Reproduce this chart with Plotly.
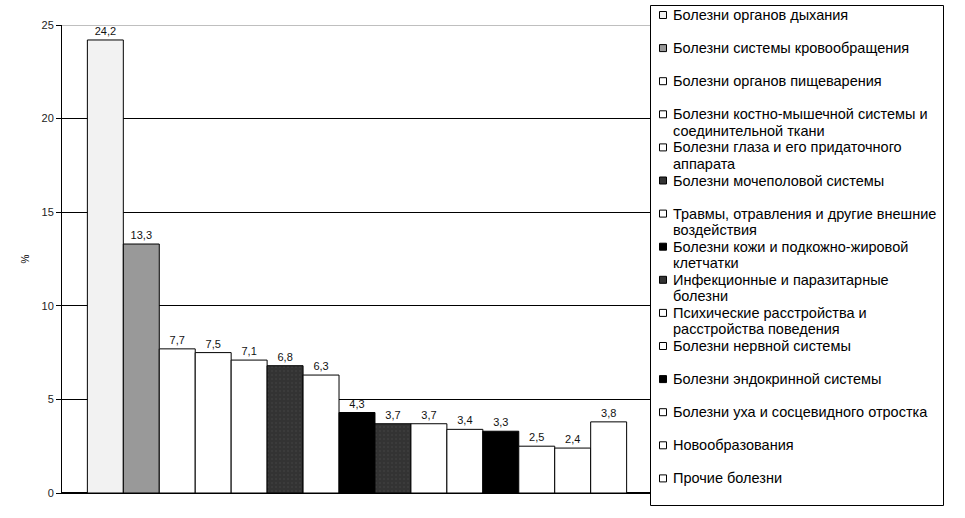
import plotly.graph_objects as go

categories = [
    "Болезни органов дыхания",
    "Болезни системы кровообращения",
    "Болезни органов пищеварения",
    "Болезни костно-мышечной системы и<br>соединительной ткани",
    "Болезни глаза и его придаточного<br>аппарата",
    "Болезни мочеполовой системы",
    "Травмы, отравления и другие внешние<br>воздействия",
    "Болезни кожи и подкожно-жировой<br>клетчатки",
    "Инфекционные и паразитарные<br>болезни",
    "Психические расстройства и<br>расстройства поведения",
    "Болезни нервной системы",
    "Болезни эндокринной системы",
    "Болезни уха и сосцевидного отростка",
    "Новообразования",
    "Прочие болезни",
]
values = [24.2, 13.3, 7.7, 7.5, 7.1, 6.8, 6.3, 4.3, 3.7, 3.7, 3.4, 3.3, 2.5, 2.4, 3.8]
colors = ["#f2f2f2", "#999999", "#ffffff", "#ffffff", "#ffffff", "#333333", "#ffffff",
          "#000000", "#333333", "#ffffff", "#ffffff", "#000000", "#ffffff", "#ffffff", "#ffffff"]
y_ticks = [0, 5, 10, 15, 20, 25]

W, H = 965, 518
PL, PR, PT, PB = 62, 652, 25, 493          # plot area in page pixels
L, R, T, B = PL, W - PR, PT, H - PB
pw, ph = W - L - R, H - T - B


def px_x(p):
    return (p - L) / pw


def px_y(p):
    return (PB - p) / ph


FONT = "Liberation Sans, Arial, sans-serif"

fig = go.Figure()
for name, v, c in zip(categories, values, colors):
    marker = dict(color=c, line=dict(color="#000000", width=1))
    if c == "#333333":
        marker["pattern"] = dict(shape=".", bgcolor=c, fgcolor="#474747", size=4, solidity=0.2)
    fig.add_trace(go.Bar(
        x=[""], y=[v], name=name, marker=marker,
        texttemplate="%{y:.1f}", textposition="outside", cliponaxis=False,
        textfont=dict(size=11, color="#111111", family=FONT),
        showlegend=False,
    ))

shapes = [
    dict(type="line", xref="paper", yref="y", x0=0, x1=1, y0=25, y1=25,
         line=dict(color="#808080", width=1), layer="below"),
    dict(type="rect", xref="paper", yref="paper",
         x0=px_x(650.5), x1=px_x(943.5), y0=px_y(505.5), y1=px_y(5.5),
         fillcolor="white", line=dict(color="#000000", width=1), layer="above"),
]
annotations = []
LEG_TOP, LEG_STEP, LINE_STEP = 15, 33.1, 16.5
for i, (name, c) in enumerate(zip(categories, colors)):
    yc = LEG_TOP + i * LEG_STEP
    shapes.append(dict(type="rect", xref="paper", yref="paper",
                       x0=px_x(659.5), x1=px_x(666.5), y0=px_y(yc + 3.5), y1=px_y(yc - 3.5),
                       fillcolor=c, line=dict(color="#000000", width=1), layer="above"))
    for k, line in enumerate(name.split("<br>")):
        annotations.append(dict(xref="paper", yref="paper", x=px_x(671), y=px_y(yc + k * LINE_STEP),
                                xanchor="left", yanchor="middle", align="left", showarrow=False,
                                text=line, font=dict(size=14.5, family=FONT, color="#000000")))

fig.update_layout(
    width=W, height=H,
    margin=dict(l=L, r=R, t=T, b=B, autoexpand=False),
    paper_bgcolor="white", plot_bgcolor="white",
    barmode="group", bargap=0.086, bargroupgap=0,
    separators=", ",
    font=dict(family=FONT, size=11, color="#111111"),
    showlegend=False,
    xaxis=dict(showticklabels=False, showline=True, linecolor="#000000", linewidth=1,
               showgrid=False, zeroline=False, fixedrange=True),
    yaxis=dict(range=[0, 25], tickvals=y_ticks, showgrid=True, gridcolor="#000000", gridwidth=1,
               showline=True, linecolor="#000000", linewidth=1, ticks="outside", ticklen=5,
               tickcolor="#000000", zeroline=True, zerolinecolor="#000000",
               tickfont=dict(size=11, color="#222222"),
               title=dict(text="%", font=dict(size=10, color="#000000"), standoff=10)),
    shapes=shapes,
    annotations=annotations,
)

fig.write_html(
    "out.html",
    config={"displayModeBar": False},
    post_script="document.body.style.margin='0';document.body.style.overflow='hidden';",
)
